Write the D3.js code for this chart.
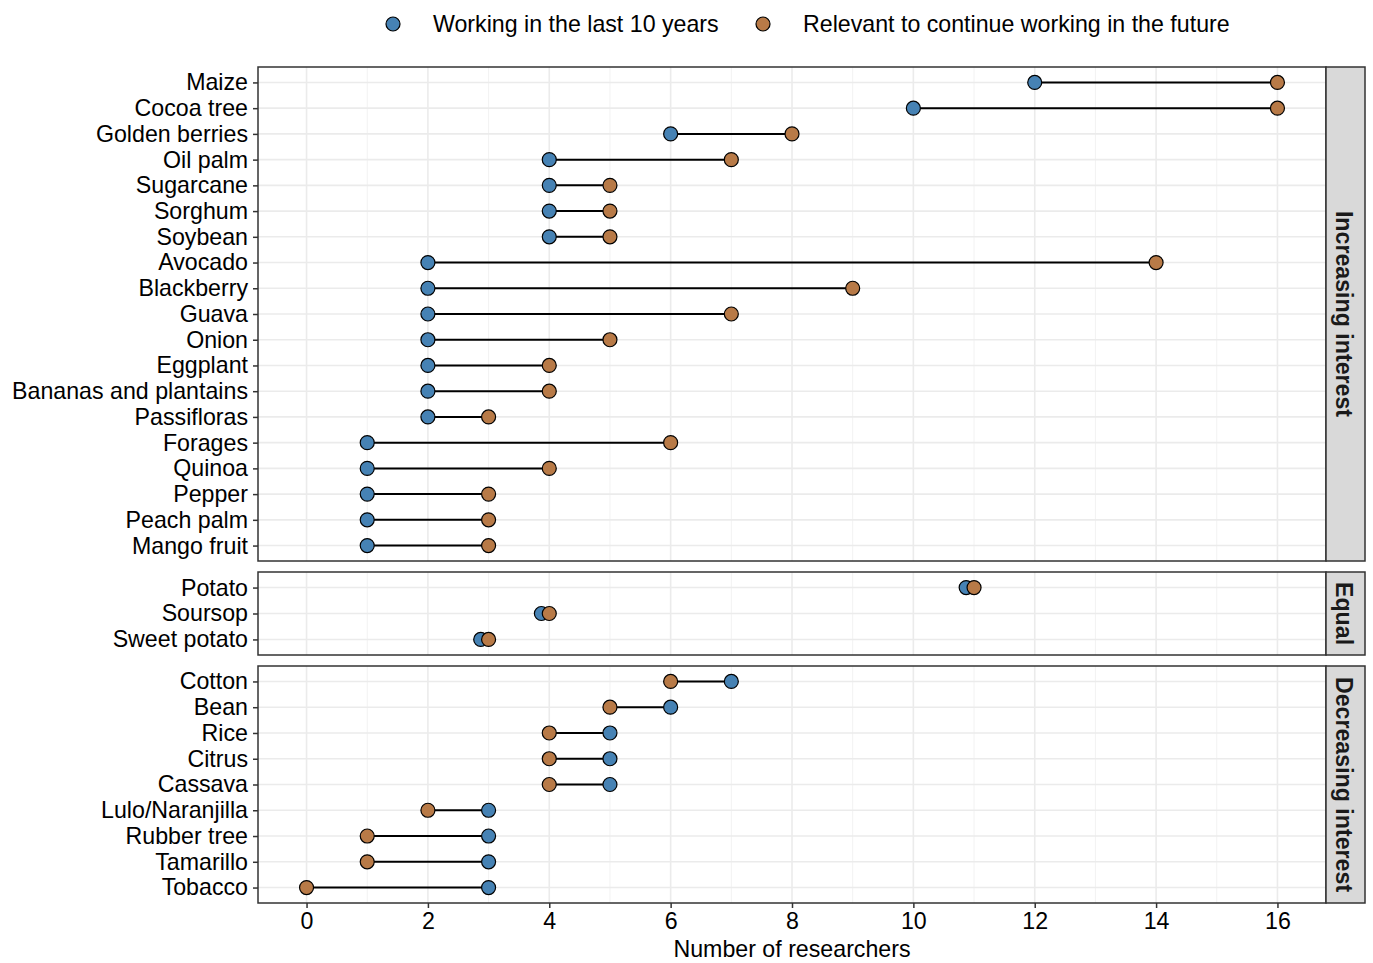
<!DOCTYPE html>
<html><head><meta charset="utf-8">
<script src="https://cdn.jsdelivr.net/npm/d3@7"></script>
<style>body{margin:0;background:#fff}svg{display:block;font-family:"Liberation Sans",Arial,sans-serif}</style>
</head><body><svg id="c" width="1373" height="963"></svg>
<script>
const groups = ["Increasing interest", "Equal", "Decreasing interest"];
const incCrops = ["Maize","Cocoa tree","Golden berries","Oil palm","Sugarcane","Sorghum","Soybean","Avocado","Blackberry","Guava","Onion","Eggplant","Bananas and plantains","Passifloras","Forages","Quinoa","Pepper","Peach palm","Mango fruit"];
const incWorking = [12,10,6,4,4,4,4,2,2,2,2,2,2,2,1,1,1,1,1];
const incFuture  = [16,16,8,7,5,5,5,14,9,7,5,4,4,3,6,4,3,3,3];
const eqCrops = ["Potato","Soursop","Sweet potato"];
const eqWorking = [10.87,3.87,2.87];
const eqFuture  = [11,4,3];
const decCrops = ["Cotton","Bean","Rice","Citrus","Cassava","Lulo/Naranjilla","Rubber tree","Tamarillo","Tobacco"];
const decWorking = [7,6,5,5,5,3,3,3,3];
const decFuture  = [6,5,4,4,4,2,1,1,0];
const xTicks = [0,2,4,6,8,10,12,14,16];
const legendLabels = ["Working in the last 10 years","Relevant to continue working in the future"];
const colWork = "#4682B4", colFut = "#B87A47";
const FS = "23.2px";

const svg = d3.select("#c");
const L = 258, R = 1326;
const x = d3.scaleLinear().domain([-0.8,16.8]).range([L,R]);
const panels = [
  {name:groups[0], crops:incCrops, w:incWorking, f:incFuture, top:67, bot:561},
  {name:groups[1], crops:eqCrops, w:eqWorking, f:eqFuture, top:572, bot:655},
  {name:groups[2], crops:decCrops, w:decWorking, f:decFuture, top:666, bot:903}
];
panels.forEach(p => {
  const y = d3.scalePoint().domain(p.crops).range([p.top,p.bot]).padding(0.6);
  const g = svg.append("g");
  d3.range(0,17,1).filter(v=>v%2===1).forEach(v=>{
    g.append("line").attr("x1",x(v)).attr("x2",x(v)).attr("y1",p.top).attr("y2",p.bot).attr("stroke","#F2F2F2").attr("stroke-width",1);
  });
  xTicks.forEach(v=>{
    g.append("line").attr("x1",x(v)).attr("x2",x(v)).attr("y1",p.top).attr("y2",p.bot).attr("stroke","#EBEBEB").attr("stroke-width",1.6);
  });
  p.crops.forEach(c=>{
    g.append("line").attr("x1",L).attr("x2",R).attr("y1",y(c)).attr("y2",y(c)).attr("stroke","#EBEBEB").attr("stroke-width",1.6);
  });
  p.crops.forEach((c,i)=>{
    g.append("line").attr("x1",x(p.w[i])).attr("x2",x(p.f[i])).attr("y1",y(c)).attr("y2",y(c)).attr("stroke","#000").attr("stroke-width",2);
  });
  p.crops.forEach((c,i)=>{
    g.append("circle").attr("cx",x(p.w[i])).attr("cy",y(c)).attr("r",7).attr("fill",colWork).attr("stroke","#000").attr("stroke-width",1.2);
  });
  p.crops.forEach((c,i)=>{
    g.append("circle").attr("cx",x(p.f[i])).attr("cy",y(c)).attr("r",7).attr("fill",colFut).attr("stroke","#000").attr("stroke-width",1.2);
  });
  g.append("rect").attr("x",L).attr("y",p.top).attr("width",R-L).attr("height",p.bot-p.top).attr("fill","none").attr("stroke","#333").attr("stroke-width",1.5);
  const ya = svg.append("g").attr("transform",`translate(${L},0)`).call(d3.axisLeft(y).tickSize(5).tickPadding(5));
  ya.select(".domain").remove();
  ya.selectAll(".tick line").attr("stroke","#333").attr("stroke-width",1.5);
  ya.selectAll(".tick text").attr("fill","#000").style("font-size",FS).style("font-family","Liberation Sans, Arial, sans-serif");
  svg.append("rect").attr("x",R).attr("y",p.top).attr("width",39).attr("height",p.bot-p.top).attr("fill","#D9D9D9").attr("stroke","#333").attr("stroke-width",1.5);
  svg.append("text").attr("transform",`translate(${R+18},${(p.top+p.bot)/2}) rotate(90)`).attr("text-anchor","middle").attr("dominant-baseline","central")
    .style("font-size",FS).style("font-weight","bold").attr("fill","#1A1A1A").text(p.name);
});
const xa = svg.append("g").attr("transform","translate(0,903)").call(d3.axisBottom(x).tickValues(xTicks).tickSize(5).tickPadding(5));
xa.select(".domain").remove();
xa.selectAll(".tick line").attr("stroke","#333").attr("stroke-width",1.5);
xa.selectAll(".tick text").attr("fill","#000").style("font-size",FS).style("font-family","Liberation Sans, Arial, sans-serif");
svg.append("text").attr("x",(L+R)/2).attr("y",957).attr("text-anchor","middle").style("font-size",FS).text("Number of researchers");
const leg = [{c:colWork,x:393,t:legendLabels[0]},{c:colFut,x:763,t:legendLabels[1]}];
leg.forEach(l=>{
  svg.append("circle").attr("cx",l.x).attr("cy",24).attr("r",7).attr("fill",l.c).attr("stroke","#000").attr("stroke-width",1.2);
  svg.append("text").attr("x",l.x+40).attr("y",24).attr("dominant-baseline","central").style("font-size",FS).text(l.t);
});
</script></body></html>
